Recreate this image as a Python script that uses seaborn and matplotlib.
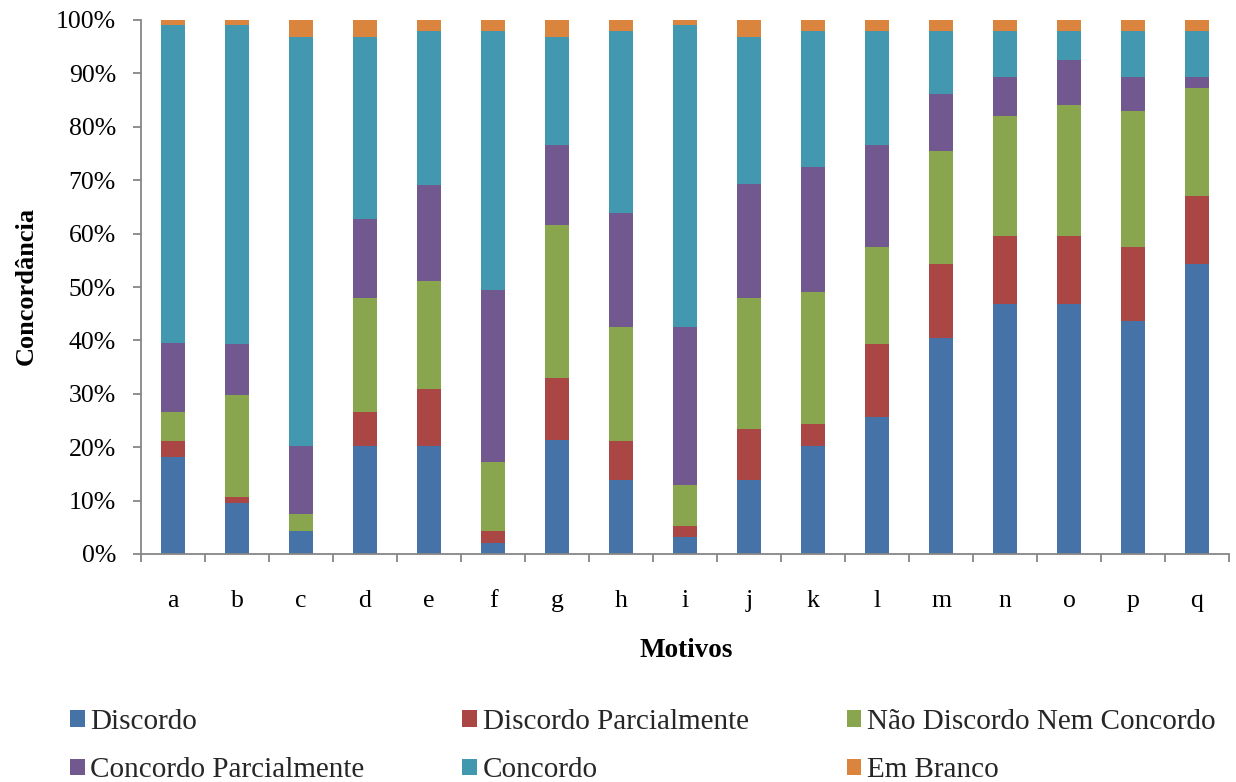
import numpy as np
import matplotlib
matplotlib.use("Agg")
import matplotlib.pyplot as plt
import seaborn as sns
from matplotlib.patches import Patch
from matplotlib.ticker import FixedLocator, PercentFormatter

# Categorias (motivos) e respostas
motivos = list("abcdefghijklmnopq")
respostas = ["Discordo", "Discordo Parcialmente", "Não Discordo Nem Concordo",
             "Concordo Parcialmente", "Concordo", "Em Branco"]

# Percentagem de respostas por motivo
discordo = [18.1, 9.6, 4.3, 20.2, 20.2, 2.1, 21.3, 13.9, 3.2, 13.9, 20.3, 25.6, 40.4, 46.8, 46.8, 43.6, 54.3]
discordo_parcial = [3.1, 1.0, 0.0, 6.4, 10.6, 2.3, 11.7, 7.3, 2.1, 9.5, 4.1, 13.8, 13.9, 12.8, 12.8, 13.9, 12.7]
neutro = [5.5, 19.2, 3.2, 21.3, 20.2, 12.9, 28.7, 21.4, 7.6, 24.5, 24.6, 18.1, 21.2, 22.4, 24.5, 25.5, 20.3]
concordo_parcial = [12.8, 9.6, 12.8, 14.9, 18.1, 32.2, 14.8, 21.2, 29.7, 21.3, 23.4, 19.0, 10.7, 7.4, 8.5, 6.4, 2.1]
concordo = [59.6, 59.6, 76.6, 34.0, 28.7, 48.4, 20.3, 34.1, 56.4, 27.6, 25.5, 21.4, 11.7, 8.5, 5.3, 8.5, 8.5]
em_branco = [1.0, 1.0, 3.2, 3.2, 2.1, 2.1, 3.2, 2.1, 1.0, 3.2, 2.1, 2.1, 2.1, 2.1, 2.1, 2.1, 2.1]

cores = ["#4572A7", "#AA4643", "#89A54E", "#71588F", "#4198AF", "#DB843D"]

sns.set_theme(style="white")
plt.rcParams["font.family"] = ["Liberation Serif", "DejaVu Serif"]

fig = plt.figure(figsize=(12.36, 7.82), dpi=100)
ax = fig.add_axes([141 / 1236, 1 - 554 / 782, 1088 / 1236, 534 / 782])

# Barras empilhadas a 100%: cada série é desenhada até ao seu total acumulado,
# da última para a primeira, de modo que as de baixo ficam por cima.
valores = np.array([discordo, discordo_parcial, neutro,
                    concordo_parcial, concordo, em_branco])
acumulado = np.cumsum(valores, axis=0) / valores.sum(axis=0) * 100

for i in range(len(respostas) - 1, -1, -1):
    sns.barplot(x=motivos, y=acumulado[i], order=motivos, color=cores[i],
                width=0.39, saturation=1, errorbar=None, linewidth=0, ax=ax)

ax.set_xlim(-0.5, 16.5)
ax.set_ylim(0, 100)
ax.yaxis.set_major_locator(FixedLocator(range(0, 101, 10)))
ax.yaxis.set_major_formatter(PercentFormatter(decimals=0))

eixo = "#868686"
for lado in ("top", "right"):
    ax.spines[lado].set_visible(False)
for lado in ("left", "bottom"):
    ax.spines[lado].set_color(eixo)
    ax.spines[lado].set_linewidth(1.3)

ax.tick_params(axis="y", which="major", left=True, length=6, width=1.3,
               color=eixo, labelsize=18.5, pad=12, labelcolor="black")
ax.tick_params(axis="x", which="major", bottom=False, length=0,
               labelsize=18.5, pad=26, labelcolor="black")
ax.set_xticks(np.arange(-0.5, 17, 1), minor=True)
ax.tick_params(axis="x", which="minor", bottom=True, length=6, width=1.3, color=eixo)

ax.set_xlabel("Motivos", fontsize=19.5, fontweight="bold", color="black")
ax.xaxis.set_label_coords(0.501, -0.157)
ax.set_ylabel("Concordância", fontsize=19, fontweight="bold", color="black")
ax.yaxis.set_label_coords(-0.0947, 0.502)

# Legenda em duas linhas, preenchida por linha
marcas = [Patch(facecolor=c, edgecolor="none") for c in cores]
ordem = [0, 3, 1, 4, 2, 5]
fig.legend([marcas[i] for i in ordem], [respostas[i] for i in ordem],
           ncol=3, loc="upper left", bbox_to_anchor=(70 / 1236, 1 - 709 / 782),
           frameon=False, fontsize=21, handlelength=0.5, handleheight=0.5,
           handletextpad=0.2, columnspacing=3.35, labelspacing=0.77,
           borderpad=0, borderaxespad=0)

fig.savefig("out.png", dpi=100)
